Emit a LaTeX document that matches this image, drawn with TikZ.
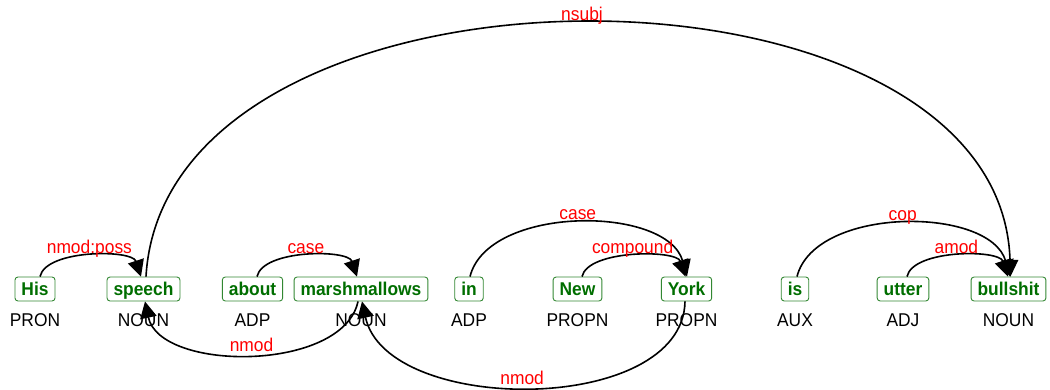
\documentclass[tikz,border=0pt]{standalone}
\usepackage{fontspec}
\setmainfont{Liberation Sans}[FakeStretch=0.94]
\usetikzlibrary{arrows.meta}
\definecolor{wordgreen}{RGB}{0,110,0}
\definecolor{boxgreen}{RGB}{50,135,50}
\definecolor{labred}{RGB}{255,0,0}
\begin{document}
\begin{tikzpicture}[x=1pt,y=1pt,
  every node/.style={font=\fontsize{18.5}{22}\selectfont},
  word/.style={draw=boxgreen, line width=0.9pt, rounded corners=3pt, text=wordgreen,
    font=\fontsize{18.5}{22}\selectfont\bfseries, text height=14.5pt, text depth=2.5pt,
    inner xsep=6.5pt, inner ysep=3.5pt, anchor=base},
  postag/.style={inner sep=0pt, anchor=base, text=black},
  arc/.style={line width=1.6pt, draw=black, -{Triangle[length=16.5pt,width=16.5pt]}},
  lab/.style={text=labred, inner sep=0pt, anchor=base, yshift=3pt}
]
\useasboundingbox (0,0) rectangle (1050,-389);

% words
\node[word] (w1) at (35,-295) {His};
\node[word] (w2) at (143.5,-295) {speech};
\node[word] (w3) at (252.5,-295) {about};
\node[word] (w4) at (361,-295) {marshmallows};
\node[word] (w5) at (469,-295) {in};
\node[word] (w6) at (577.5,-295) {New};
\node[word] (w7) at (686.5,-295) {York};
\node[word] (w8) at (795,-295) {is};
\node[word] (w9) at (903,-295) {utter};
\node[word] (w10) at (1008.5,-295) {bullshit};

% part-of-speech tags
\node[postag] (p1) at (35,-326.7) {PRON};
\node[postag] (p2) at (143.5,-326.7) {NOUN};
\node[postag] (p3) at (252.5,-326.7) {ADP};
\node[postag] (p4) at (361,-326.7) {NOUN};
\node[postag] (p5) at (469,-326.7) {ADP};
\node[postag] (p6) at (577.5,-326.7) {PROPN};
\node[postag] (p7) at (686.5,-326.7) {PROPN};
\node[postag] (p8) at (795,-326.7) {AUX};
\node[postag] (p9) at (903,-326.7) {ADJ};
\node[postag] (p10) at (1008.5,-326.7) {NOUN};

% arcs above
\draw[arc] ([xshift=5pt]w1.north) .. controls +(6,27.3) and +(-9,27.3) .. ([xshift=-2.5pt]w2.north) node[lab,midway] {nmod:poss};
\draw[arc] ([xshift=4.5pt]w3.north) .. controls +(6,27.3) and +(-9,27.3) .. ([xshift=-4pt]w4.north) node[lab,midway] {case};
\draw[arc] ([xshift=1pt]w5.north) .. controls +(18,71.6) and +(-20,71.6) .. ([xshift=0.5pt]w7.north) node[lab,midway] {case};
\draw[arc] ([xshift=4.5pt]w6.north) .. controls +(6,27) and +(-9,27) .. ([xshift=-1pt]w7.north) node[lab,midway] {compound};
\draw[arc] ([xshift=2pt]w8.north) .. controls +(18,70.7) and +(-20,70.7) .. ([xshift=1.5pt]w10.north) node[lab,midway] {cop};
\draw[arc] ([xshift=4pt]w9.north) .. controls +(6,27.3) and +(-9,27.3) .. ([xshift=-0.5pt]w10.north) node[lab,midway] {amod};
\draw[arc] ([xshift=2.5pt]w2.north) .. controls +(20,338) and +(-10,338) .. ([xshift=2pt]w10.north) node[lab,midway] {nsubj};

% arcs below
\draw[arc] ([xshift=-3pt]w4.south) .. controls +(-15,-70.7) and +(15,-70.7) .. ([xshift=1.5pt]w2.south) node[lab,midway] {nmod};
\draw[arc] ([xshift=-1.5pt]w7.south) .. controls +(-2,-114.3) and +(25,-114.3) .. ([xshift=1pt]w4.south) node[lab,midway,xshift=-10pt] {nmod};
\end{tikzpicture}
\end{document}
